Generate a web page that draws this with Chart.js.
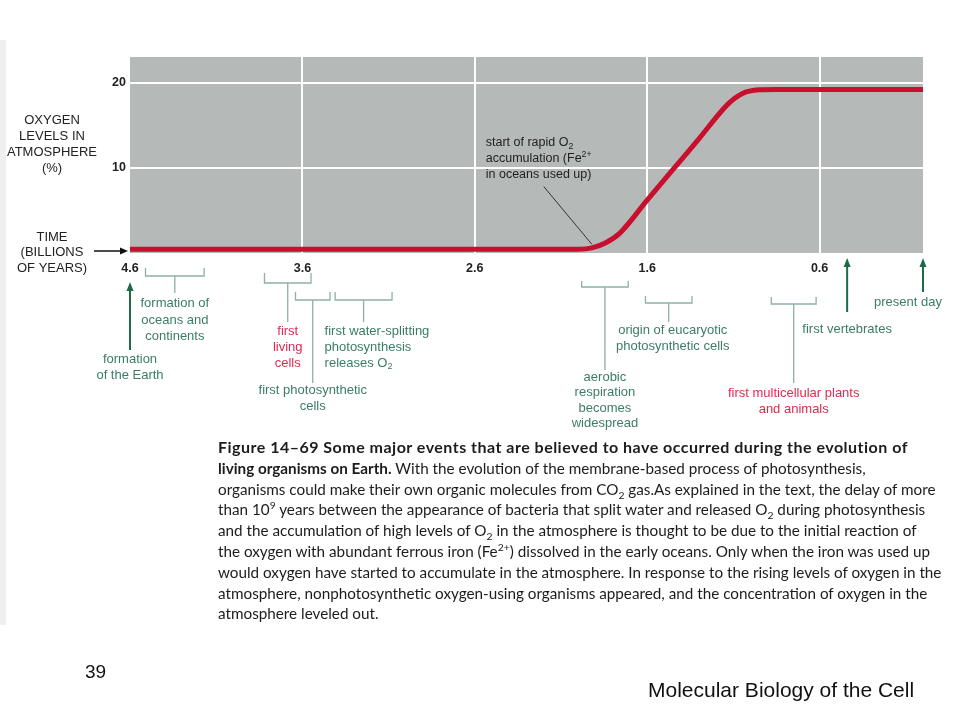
<!DOCTYPE html>
<html>
<head>
<meta charset="utf-8">
<script src="https://cdn.jsdelivr.net/npm/chart.js@4.4.1/dist/chart.umd.min.js"></script>
<style>
  html, body { margin: 0; padding: 0; background: #fff; }
  body { width: 960px; height: 720px; position: relative; overflow: hidden; }
  #chart { position: absolute; left: 0; top: 0; }
  #edge { position: absolute; left: 0; top: 40px; width: 6px; height: 585px; background: #efefef; }
  #caption { position: absolute; left: 218px; top: 437px; font-family: Lato, "Open Sans", sans-serif;
             color: #1c1c1c; font-size: 15px; line-height: 20.8px; }
  #caption div { white-space: nowrap; }
  #caption span { display: inline-block; }
  #first { font-size: 1.05em; }
  sub, sup { font-size: 0.68em; line-height: 0; }
  .pg { position: absolute; font-family: "Liberation Sans", Arial, sans-serif; color: #111; line-height: 1; }
</style>
</head>
<body>
<div id="edge"></div>
<canvas id="chart" width="960" height="720"></canvas>
<div id="caption">
  <div><span id="first"><b>Figure 14–69 Some major events that are believed to have occurred during the evolution of</b></span></div>
  <div><span><b>living organisms on Earth.</b> With the evolution of the membrane-based process of photosynthesis,</span></div>
  <div><span id="widest">organisms could make their own organic molecules from CO<sub>2</sub> gas.As explained in the text, the delay of more</span></div>
  <div><span>than 10<sup>9</sup> years between the appearance of bacteria that split water and released O<sub>2</sub> during photosynthesis</span></div>
  <div><span>and the accumulation of high levels of O<sub>2</sub> in the atmosphere is thought to be due to the initial reaction of</span></div>
  <div><span>the oxygen with abundant ferrous iron (Fe<sup>2+</sup>) dissolved in the early oceans. Only when the iron was used up</span></div>
  <div><span>would oxygen have started to accumulate in the atmosphere. In response to the rising levels of oxygen in the</span></div>
  <div><span>atmosphere, nonphotosynthetic oxygen-using organisms appeared, and the concentration of oxygen in the</span></div>
  <div><span>atmosphere leveled out.</span></div>
</div>
<div class="pg" style="left:85px;top:662px;font-size:19px;">39</div>
<div class="pg" style="left:648px;top:679px;font-size:21px;">Molecular Biology of the Cell</div>
<script>
// oxygen curve (time in billions of years ago, O2 in %)
const years  = [4.6, 3.6, 2.6, 2.0, 1.92, 1.84, 1.76, 1.6, 1.45, 1.3, 1.13, 1.05, 0.95, 0.85, 0.6, 0];
const oxygen = [0.45, 0.45, 0.45, 0.45, 0.6, 1.2, 2.3, 6.2, 9.8, 13.4, 17.5, 18.7, 19.15, 19.2, 19.2, 19.2];

const xTicks = [4.6, 3.6, 2.6, 1.6, 0.6];
const yTicks = [10, 20];

// events shown with a bracket under the axis (start / end of period)
const bracketNames = ["oceans", "living", "photo", "water", "aerobic", "eucaryotic", "multicellular"];
const bracketStart = [4.51, 3.82, 3.64, 3.41, 1.98, 1.61, 0.88];
const bracketEnd   = [4.17, 3.55, 3.44, 3.08, 1.71, 1.34, 0.62];

// events shown with an arrow
const arrowNames = ["earth", "vertebrates", "present"];
const arrowTime  = [4.6, 0.44, 0];

// leader for the "start of rapid O2" note: [time, %] of the note end and the curve end
const noteFrom = [2.2, 7.8];
const noteTo   = [1.92, 1.0];

const green = '#3c7c66', red = '#de2a50', stemGrey = '#8fb0a5', arrowGreen = '#1d6b47', ink = '#222';

// layout of the labels (pixels below the axis)
const bracketLayout = {
  oceans:        { top: 268, bar: 276, stem: 293, color: green, align: 'center', dx: 0, lines: [303, 320, 336],
                   text: ['formation of', 'oceans and', 'continents'] },
  living:        { top: 273, bar: 283, stem: 322, color: red, align: 'center', dx: 0, lines: [331, 347, 363],
                   text: ['first', 'living', 'cells'] },
  photo:         { top: 292, bar: 300, stem: 383, color: green, align: 'center', dx: 0, lines: [390, 406],
                   text: ['first photosynthetic', 'cells'] },
  water:         { top: 292, bar: 300, stem: 322, color: green, align: 'left', dx: -39, lines: [331, 347, 363],
                   text: ['first water-splitting', 'photosynthesis', 'releases O_{2}'] },
  aerobic:       { top: 281, bar: 287, stem: 370, color: green, align: 'center', dx: 0, lines: [377, 392, 408, 423],
                   text: ['aerobic', 'respiration', 'becomes', 'widespread'] },
  eucaryotic:    { top: 296, bar: 303, stem: 322, color: green, align: 'center', dx: 4, lines: [330, 346],
                   text: ['origin of eucaryotic', 'photosynthetic cells'] },
  multicellular: { top: 297, bar: 304, stem: 383, color: red, align: 'center', dx: 0, lines: [393, 409],
                   text: ['first multicellular plants', 'and animals'] }
};
const arrowLayout = {
  earth:       { head: 282, tail: 350, dx: 0, lines: [359, 375], text: ['formation', 'of the Earth'] },
  vertebrates: { head: 258, tail: 312, dx: 0, lines: [329], text: ['first vertebrates'] },
  present:     { head: 258, tail: 292, dx: -15, lines: [302], text: ['present day'] }
};

Chart.defaults.font.family = '"Liberation Sans", Arial, sans-serif';

function richLine(ctx, str, x, y, align, size, weight) {
  const parts = str.split(/(_\{[^}]*\}|\^\{[^}]*\})/).filter(s => s.length);
  const items = parts.map(p => {
    let kind = 'n', s = p;
    if (p.startsWith('_{')) { kind = 'sub'; s = p.slice(2, -1); }
    else if (p.startsWith('^{')) { kind = 'sup'; s = p.slice(2, -1); }
    const fs = kind === 'n' ? size : size * 0.7;
    ctx.font = `${weight || 'normal'} ${fs}px "Liberation Sans", Arial, sans-serif`;
    return { s, kind, fs, w: ctx.measureText(s).width };
  });
  const total = items.reduce((a, b) => a + b.w, 0);
  let cx = align === 'center' ? x - total / 2 : x;
  ctx.textAlign = 'left';
  ctx.textBaseline = 'middle';
  items.forEach(it => {
    ctx.font = `${weight || 'normal'} ${it.fs}px "Liberation Sans", Arial, sans-serif`;
    const dy = it.kind === 'sub' ? size * 0.3 : it.kind === 'sup' ? -size * 0.35 : 0;
    ctx.fillText(it.s, cx, y + dy);
    cx += it.w;
  });
}

function arrowUp(ctx, x, head, tail, color, w) {
  ctx.strokeStyle = color; ctx.fillStyle = color; ctx.lineWidth = w;
  ctx.beginPath(); ctx.moveTo(x, tail); ctx.lineTo(x, head + 7); ctx.stroke();
  ctx.beginPath(); ctx.moveTo(x, head); ctx.lineTo(x - 3.5, head + 9); ctx.lineTo(x + 3.5, head + 9); ctx.closePath(); ctx.fill();
}

const annotate = {
  id: 'annotate',
  beforeDraw(chart) {
    const { ctx, chartArea: a } = chart;
    ctx.save();
    ctx.fillStyle = '#b5bab9';
    ctx.fillRect(a.left, a.top, a.width, a.height);
    ctx.restore();
  },
  afterDraw(chart) {
    const { ctx } = chart;
    const xs = chart.scales.x, ys = chart.scales.y;
    ctx.save();

    // axis titles on the left
    ctx.fillStyle = ink;
    ['OXYGEN', 'LEVELS IN', 'ATMOSPHERE', '(%)'].forEach((t, i) => richLine(ctx, t, 52, 120 + i * 16, 'center', 13));
    ['TIME', '(BILLIONS', 'OF YEARS)'].forEach((t, i) => richLine(ctx, t, 52, 237 + i * 15.5, 'center', 13));
    // black arrow pointing at the time axis
    ctx.strokeStyle = '#111'; ctx.fillStyle = '#111'; ctx.lineWidth = 1.5;
    ctx.beginPath(); ctx.moveTo(94, 251); ctx.lineTo(121, 251); ctx.stroke();
    ctx.beginPath(); ctx.moveTo(128, 251); ctx.lineTo(120, 247.5); ctx.lineTo(120, 254.5); ctx.closePath(); ctx.fill();

    // brackets
    bracketNames.forEach((name, i) => {
      const L = bracketLayout[name];
      const x0 = xs.getPixelForValue(bracketStart[i]);
      const x1 = xs.getPixelForValue(bracketEnd[i]);
      const xm = (x0 + x1) / 2;
      ctx.strokeStyle = stemGrey; ctx.lineWidth = 1.3;
      ctx.beginPath();
      ctx.moveTo(x0, L.top); ctx.lineTo(x0, L.bar); ctx.lineTo(x1, L.bar); ctx.lineTo(x1, L.top);
      ctx.moveTo(xm, L.bar); ctx.lineTo(xm, L.stem);
      ctx.stroke();
      ctx.fillStyle = L.color;
      L.text.forEach((t, j) => richLine(ctx, t, xm + L.dx, L.lines[j], L.align, 13));
    });

    // arrows
    arrowNames.forEach((name, i) => {
      const L = arrowLayout[name];
      const x = xs.getPixelForValue(arrowTime[i]);
      arrowUp(ctx, x, L.head, L.tail, arrowGreen, 2);
      ctx.fillStyle = green;
      L.text.forEach((t, j) => richLine(ctx, t, x + L.dx, L.lines[j], 'center', 13));
    });

    // note on the curve
    const nx = xs.getPixelForValue(noteFrom[0]), ny = ys.getPixelForValue(noteFrom[1]);
    const cx = xs.getPixelForValue(noteTo[0]), cy = ys.getPixelForValue(noteTo[1]);
    ctx.strokeStyle = '#333'; ctx.lineWidth = 1;
    ctx.beginPath(); ctx.moveTo(nx, ny); ctx.lineTo(cx, cy); ctx.stroke();
    ctx.fillStyle = ink;
    ['start of rapid O_{2}', 'accumulation (Fe^{2+}', 'in oceans used up)'].forEach((t, j) =>
      richLine(ctx, t, nx - 58, ny - 44 + j * 16, 'left', 12.5));
    ctx.restore();
  }
};

new Chart(document.getElementById('chart'), {
  type: 'line',
  data: {
    datasets: [{
      data: years.map((t, i) => ({ x: t, y: oxygen[i] })),
      borderColor: '#c8102e',
      borderWidth: 5,
      pointRadius: 0,
      cubicInterpolationMode: 'monotone',
      fill: false,
      clip: false
    }]
  },
  options: {
    responsive: false,
    animation: false,
    devicePixelRatio: 1,
    layout: { padding: { left: 100, top: 57, right: 37, bottom: 427 } },
    plugins: { legend: { display: false }, tooltip: { enabled: false } },
    scales: {
      x: {
        type: 'linear', reverse: true, min: 0, max: 4.6,
        afterBuildTicks: s => { s.ticks = xTicks.map(v => ({ value: v })); },
        afterFit: s => { s.height = 40; },
        border: { display: false },
        grid: {
          drawTicks: false, lineWidth: 2,
          color: c => (c.tick && c.tick.value === xTicks[0]) ? 'rgba(0,0,0,0)' : '#ffffff'
        },
        ticks: {
          autoSkip: false, maxRotation: 0, padding: 8, color: ink,
          font: { size: 12.5, weight: 'bold' },
          callback: v => v.toFixed(1)
        }
      },
      y: {
        min: 0, max: 23,
        afterBuildTicks: s => { s.ticks = yTicks.map(v => ({ value: v })); },
        afterFit: s => { s.width = 30; },
        border: { display: false },
        grid: { drawTicks: false, lineWidth: 2, color: '#ffffff' },
        ticks: { padding: 4, color: ink, font: { size: 12.5, weight: 'bold' } }
      }
    }
  },
  plugins: [annotate]
});

// size the caption so its longest line spans the same width as the printed one
const cap = document.getElementById('caption');
const w = document.getElementById('widest').getBoundingClientRect().width;
cap.style.fontSize = (15 * 718 / w).toFixed(2) + 'px';
// the bold heading line is set wider in the print
const first = document.getElementById('first');
const fw = first.getBoundingClientRect().width;
first.style.letterSpacing = Math.max(0, (690 - fw) / first.textContent.length).toFixed(2) + 'px';
</script>
</body>
</html>
